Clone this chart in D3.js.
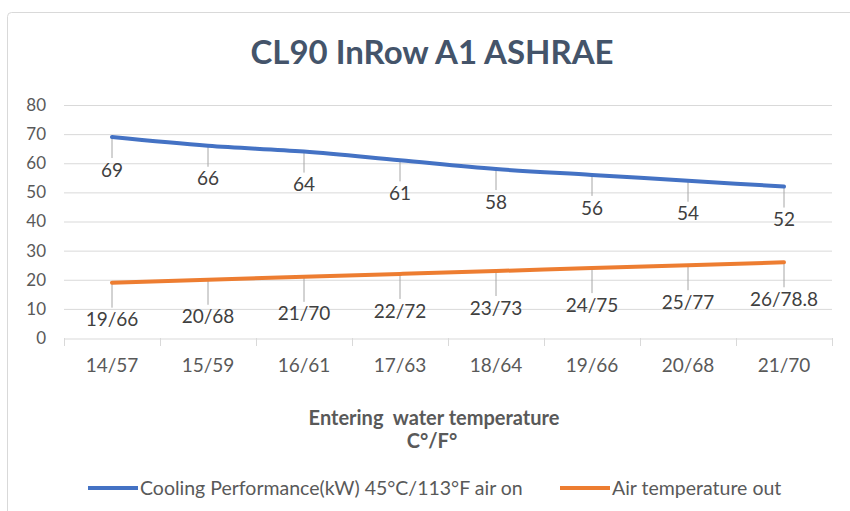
<!DOCTYPE html>
<html><head><meta charset="utf-8">
<script src="https://cdn.jsdelivr.net/npm/d3@7"></script>
<style>body{margin:0;background:#fff}svg{display:block}text{font-family:Lato,"Open Sans",sans-serif}</style>
</head><body><svg id="c" width="850" height="511"></svg>
<script>
const categories = ["14/57","15/59","16/61","17/63","18/64","19/66","20/68","21/70"];
const cooling = [69,66,64,61,58,56,54,52];
const airOut = [19,20,21,22,23,24,25,26];
const airOutLabels = ["19/66","20/68","21/70","22/72","23/73","24/75","25/77","26/78.8"];
const yTicks = [0,10,20,30,40,50,60,70,80];
const seriesNames = ["Cooling Performance(kW) 45°C/113°F air on","Air temperature out"];
const colors = ["#4472C4","#ED7D31"];

const svg = d3.select("#c");
svg.append("rect").attr("x",7.5).attr("y",12.5).attr("width",900).attr("height",600).attr("rx",4)
  .attr("fill","#fff").attr("stroke","#d9d9d9");

const x = d3.scaleBand().domain(categories).range([64,832]);
const y = d3.scaleLinear().domain([0,80]).range([338,105]);

svg.append("text").attr("x",432).attr("y",64).attr("text-anchor","middle")
  .attr("font-size",33).attr("font-weight","bold").attr("fill","#44546A").text("CL90 InRow A1 ASHRAE");

// gridlines
svg.append("g").selectAll("line").data(yTicks.filter(d=>d>0)).join("line")
  .attr("x1",64).attr("x2",832).attr("y1",d=>y(d)+0.5).attr("y2",d=>y(d)+0.5)
  .attr("stroke","#d9d9d9").attr("stroke-width",1);
// y labels
svg.append("g").selectAll("text").data(yTicks).join("text")
  .attr("x",46).attr("y",d=>y(d)).attr("dy","0.35em").attr("text-anchor","end")
  .attr("font-size",17).attr("fill","#595959").text(d=>d);

// x axis
const xa = svg.append("g").attr("transform","translate(0,338.5)")
  .call(d3.axisBottom(x).tickSize(0).tickPadding(20));
xa.select(".domain").attr("stroke","#d9d9d9");
xa.selectAll(".tick text").attr("font-size",19).attr("fill","#595959").attr("font-family","Lato");
const bounds = categories.map(c=>x(c)).concat([x.range()[1]]);
svg.append("g").selectAll("line").data(bounds).join("line")
  .attr("x1",d=>d+0.5).attr("x2",d=>d+0.5).attr("y1",338).attr("y2",346)
  .attr("stroke","#d9d9d9");

svg.append("text").attr("x",434).attr("y",425).attr("text-anchor","middle")
  .attr("font-size",20).attr("font-weight","bold").attr("fill","#595959")
  .attr("xml:space","preserve").text("Entering  water temperature");
svg.append("text").attr("x",432).attr("y",448).attr("text-anchor","middle")
  .attr("font-size",20).attr("font-weight","bold").attr("fill","#595959").text("C°/F°");

const cx = d=>x(d)+x.bandwidth()/2;
const line = d3.line().x(d=>cx(d.c)).y(d=>y(d.v)).curve(d3.curveMonotoneX);
const series = [
  {vals:cooling, labels:cooling.map(String), off:33},
  {vals:airOut, labels:airOutLabels, off:37}
];
series.forEach((s,i)=>{
  const pts = categories.map((c,j)=>({c, v:s.vals[j], l:s.labels[j]}));
  const g = svg.append("g");
  g.selectAll("line").data(pts).join("line")
    .attr("x1",d=>cx(d.c)).attr("x2",d=>cx(d.c))
    .attr("y1",d=>y(d.v)).attr("y2",d=>y(d.v)+s.off-12)
    .attr("stroke","#a6a6a6").attr("stroke-width",1);
  g.append("path").datum(pts).attr("d",line).attr("fill","none")
    .attr("stroke",colors[i]).attr("stroke-width",4).attr("stroke-linecap","round");
  g.selectAll("text").data(pts).join("text")
    .attr("x",d=>cx(d.c)).attr("y",d=>y(d.v)+s.off).attr("dy","0.35em")
    .attr("text-anchor","middle").attr("font-size",19).attr("fill","#404040").text(d=>d.l);
});

// legend
const leg = [{x:88,tx:140},{x:560,tx:612}];
leg.forEach((l,i)=>{
  svg.append("line").attr("x1",l.x).attr("x2",l.x+50).attr("y1",488).attr("y2",488)
    .attr("stroke",colors[i]).attr("stroke-width",4);
  svg.append("text").attr("x",l.tx).attr("y",488).attr("dy","0.35em")
    .attr("font-size",19.5).attr("fill","#595959").text(seriesNames[i]);
});
</script></body></html>
